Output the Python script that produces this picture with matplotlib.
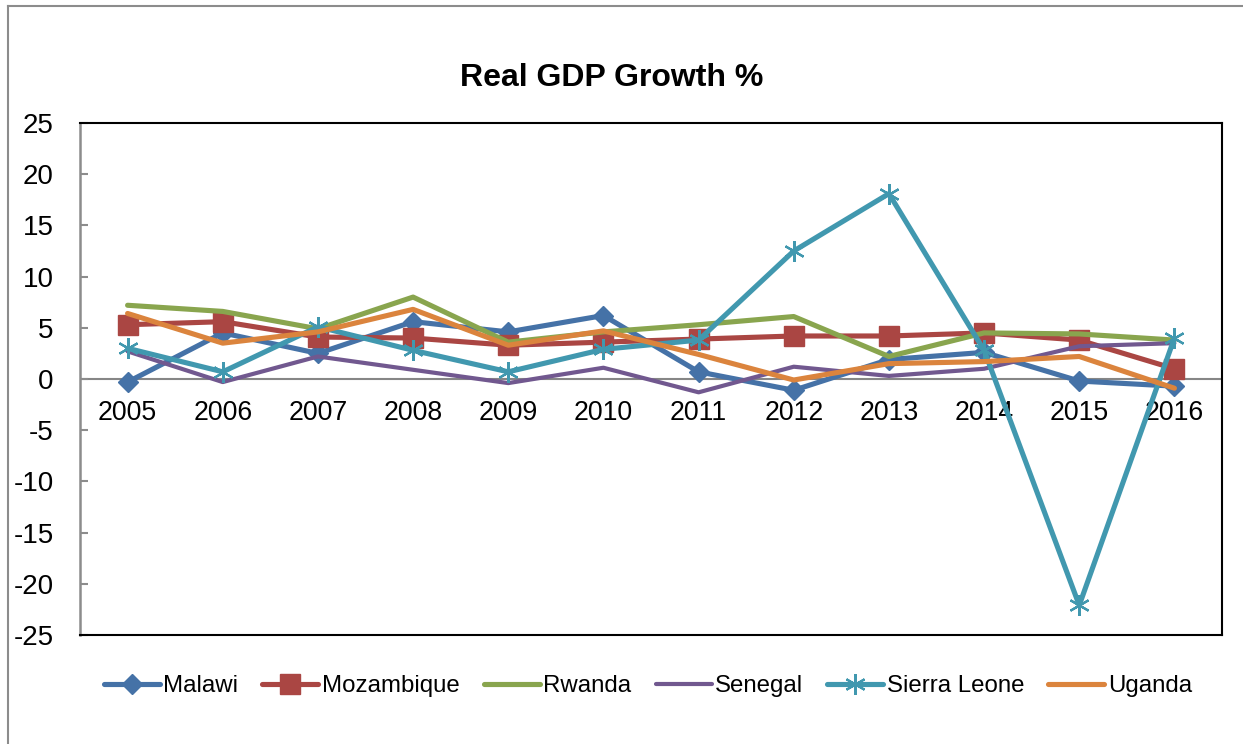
import matplotlib
matplotlib.use("Agg")
import matplotlib.pyplot as plt
from matplotlib.lines import Line2D

plt.rcParams['font.family'] = ['Liberation Sans', 'DejaVu Sans']

years = ["2005", "2006", "2007", "2008", "2009", "2010", "2011", "2012", "2013", "2014", "2015", "2016"]
malawi = [-0.3, 4.5, 2.5, 5.6, 4.6, 6.2, 0.7, -1.1, 1.9, 2.6, -0.2, -0.7]
mozambique = [5.3, 5.6, 4.1, 4.0, 3.3, 3.6, 3.9, 4.2, 4.2, 4.5, 3.8, 1.0]
rwanda = [7.2, 6.6, 4.9, 8.0, 3.6, 4.6, 5.3, 6.1, 2.2, 4.5, 4.4, 3.8]
senegal = [2.7, -0.3, 2.2, 0.9, -0.4, 1.1, -1.3, 1.2, 0.3, 1.0, 3.2, 3.5]
sierra_leone = [3.0, 0.7, 5.1, 2.8, 0.7, 2.9, 3.8, 12.5, 18.1, 2.8, -22.1, 4.0]
uganda = [6.4, 3.5, 4.6, 6.8, 3.3, 4.7, 2.4, -0.1, 1.5, 1.7, 2.2, -0.9]
y_ticks = [-25, -20, -15, -10, -5, 0, 5, 10, 15, 20, 25]

W, H = 1243, 744
fig = plt.figure(figsize=(W / 100, H / 100), dpi=100)
# outer chart border (top and left visible)
fig.add_artist(Line2D([8 / W, 1.0], [1 - 6 / H, 1 - 6 / H], color='#8c8c8c', lw=1.5, transform=fig.transFigure))
fig.add_artist(Line2D([8 / W, 8 / W], [0, 1 - 6 / H], color='#8c8c8c', lw=1.5, transform=fig.transFigure))

ax = fig.add_axes([80 / W, (H - 635) / H, (1222 - 80) / W, (635 - 123) / H])
x = list(range(len(years)))

series = [
    ("Malawi", malawi, '#4572A7', dict(marker='D', ms=10)),
    ("Mozambique", mozambique, '#AA4643', dict(marker='s', ms=14)),
    ("Rwanda", rwanda, '#89A54E', dict(marker=None)),
    ("Senegal", senegal, '#71588F', dict(marker=None)),
    ("Sierra Leone", sierra_leone, '#4198AF', dict(marker=(6, 2, 0), ms=15, mew=1.6)),
    ("Uganda", uganda, '#DB843D', dict(marker=None)),
]
for name, vals, col, mk in series:
    lw = 3.0 if name == "Senegal" else 3.7
    ax.plot(x, vals, color=col, lw=lw, label=name, markerfacecolor=col, zorder=3,
            markeredgecolor=col, solid_capstyle='round', solid_joinstyle='round', **mk)

ax.set_xlim(-0.5, len(years) - 0.5)
ax.set_ylim(-25, 25)
ax.set_yticks(y_ticks)
ax.set_yticklabels([str(v) for v in y_ticks], fontsize=20)
ax.tick_params(axis='y', direction='in', length=6, color='#8c8c8c', width=1.5, pad=19)
ax.set_xticks([])
for s in ['top', 'right', 'bottom']:
    ax.spines[s].set_color('black')
    ax.spines[s].set_linewidth(1.5)
ax.spines['left'].set_color('#8c8c8c')
ax.spines['left'].set_linewidth(1.8)

# zero line
ax.axhline(0, color='#868686', lw=1.5, zorder=1)

sec = ax.secondary_xaxis(0.5)
sec.set_alignment('bottom')
sec.set_xticks(x)
sec.set_xticklabels(years, fontsize=19.2)
sec.tick_params(axis='x', length=0, pad=15)
for s in sec.spines.values():
    s.set_visible(False)

fig.text(612 / W, 1 - 78 / H, "Real GDP Growth %", fontsize=23, fontweight='bold', ha='center', va='center')

fig.legend(loc='center', bbox_to_anchor=(648 / W, 1 - 686 / H), ncol=6, frameon=False,
           fontsize=17.3, handlelength=2.33, handletextpad=0.15, columnspacing=1.0)

fig.savefig("out.png", dpi=100)
